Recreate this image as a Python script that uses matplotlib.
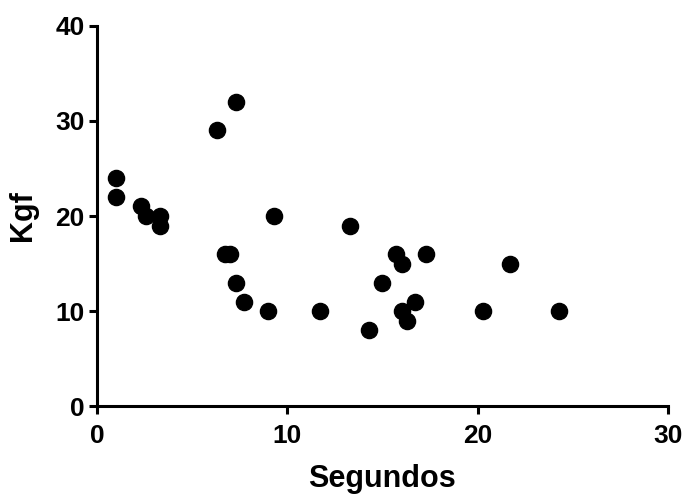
import numpy as np
import matplotlib
matplotlib.use("Agg")
import matplotlib.pyplot as plt

plt.rcParams['font.family'] = ['Liberation Sans', 'DejaVu Sans']
plt.rcParams['font.weight'] = 'bold'

segundos = [1.0, 1.0, 2.3, 2.6, 3.3, 3.3, 6.3, 7.3, 6.7, 7.0, 7.3, 7.7, 9.3, 9.0,
            11.7, 13.3, 14.3, 15.0, 15.7, 16.0, 16.0, 16.3, 16.7, 17.3, 20.3, 21.7, 24.3]
kgf = [24, 22, 21, 20, 20, 19, 29, 32, 16, 16, 13, 11, 20, 10,
       10, 19, 8, 13, 16, 15, 10, 9, 11, 16, 10, 15, 10]

fig = plt.figure(figsize=(6.83, 4.96), dpi=100)
ax = fig.add_axes([0.142, 0.181, 0.836, 0.767])

ax.scatter(segundos, kgf, s=135, color='black', zorder=3, clip_on=False)

ax.set_xlim(0, 30)
ax.set_ylim(0, 40)
ax.set_xticks([0, 10, 20, 30])
ax.set_yticks([0, 10, 20, 30, 40])

for s in ['top', 'right']:
    ax.spines[s].set_visible(False)
for s in ['left', 'bottom']:
    ax.spines[s].set_linewidth(2.2)
ax.tick_params(width=2.2, length=6, labelsize=19, pad=3)
ax.tick_params(axis='x', pad=7)

ax.set_xlabel('Segundos', fontsize=22, fontweight='bold', labelpad=11)
ax.set_ylabel('Kgf', fontsize=22, fontweight='bold', labelpad=12)

fig.savefig('out.png', dpi=100)
